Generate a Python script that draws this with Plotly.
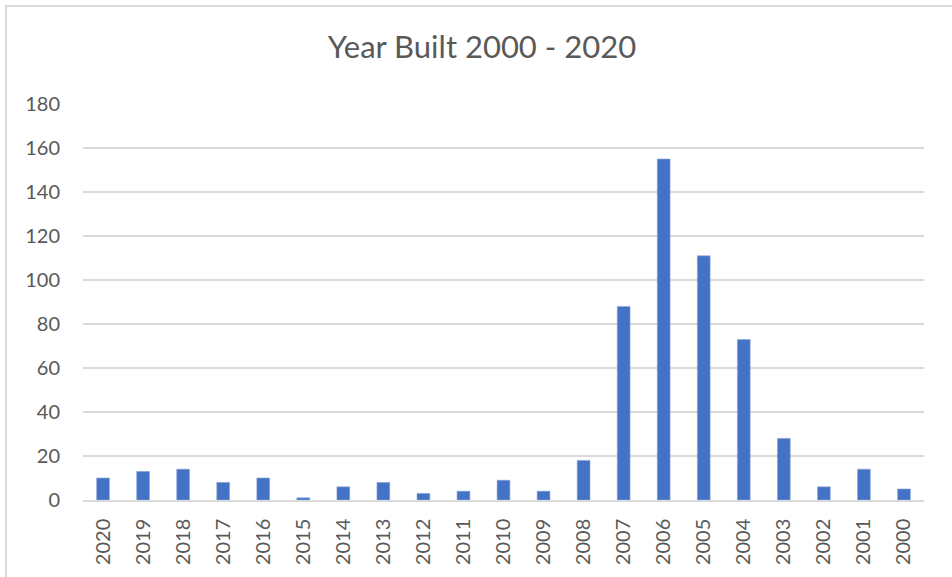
import plotly.graph_objects as go

# Number of buildings by construction year (newest first)
years = ["2020", "2019", "2018", "2017", "2016", "2015", "2014", "2013", "2012", "2011",
         "2010", "2009", "2008", "2007", "2006", "2005", "2004", "2003", "2002", "2001", "2000"]
counts = [10, 13, 14, 8, 10, 1, 6, 8, 3, 4, 9, 4, 18, 88, 155, 111, 73, 28, 6, 14, 5]
y_ticks = [0, 20, 40, 60, 80, 100, 120, 140, 160, 180]

W, H = 952, 577
ML, MR, MT, MB = 83, 28, 104, 77
font_family = "Lato, 'Open Sans', sans-serif"
text_color = "#595959"

fig = go.Figure(
    go.Bar(
        x=years,
        y=counts,
        marker=dict(color="#4472C4", line=dict(color="#8FAADC", width=0.6)),
        hoverinfo="x+y",
    )
)

pw = W - ML - MR
ph = H - MT - MB

fig.update_layout(
    width=W,
    height=H,
    margin=dict(l=ML, r=MR, t=MT, b=MB, autoexpand=False),
    paper_bgcolor="white",
    plot_bgcolor="white",
    bargap=0.68,
    showlegend=False,
    title=dict(
        text="Year Built 2000 - 2020",
        x=482 / W,
        xref="container",
        xanchor="center",
        y=1 - 47 / H,
        yref="container",
        yanchor="middle",
        font=dict(family=font_family, size=31, color=text_color),
    ),
    xaxis=dict(
        type="category",
        tickangle=-90,
        tickfont=dict(family=font_family, size=20, color=text_color),
        showgrid=False,
        showline=True,
        linecolor="#D9D9D9",
        linewidth=1.5,
        ticks="",
        ticklabelstandoff=9,
        automargin=False,
    ),
    yaxis=dict(
        range=[0, 180],
        tickvals=y_ticks,
        tickfont=dict(family=font_family, size=20, color=text_color),
        showgrid=True,
        gridcolor="#D9D9D9",
        gridwidth=1.5,
        zeroline=False,
        showline=False,
        ticks="",
        ticklabelstandoff=22,
        automargin=False,
    ),
    shapes=[
        # chart-area frame, open at the right and bottom edges of the page
        dict(
            type="rect",
            xref="paper",
            yref="paper",
            x0=(6 - ML) / pw,
            x1=(W + 10 - ML) / pw,
            y0=(MB - (H + 10)) / ph,
            y1=(H - 6 - MB) / ph,
            line=dict(color="#D9D9D9", width=2),
            fillcolor="rgba(0,0,0,0)",
            layer="below",
        )
    ],
)

fig.write_html("out.html")
